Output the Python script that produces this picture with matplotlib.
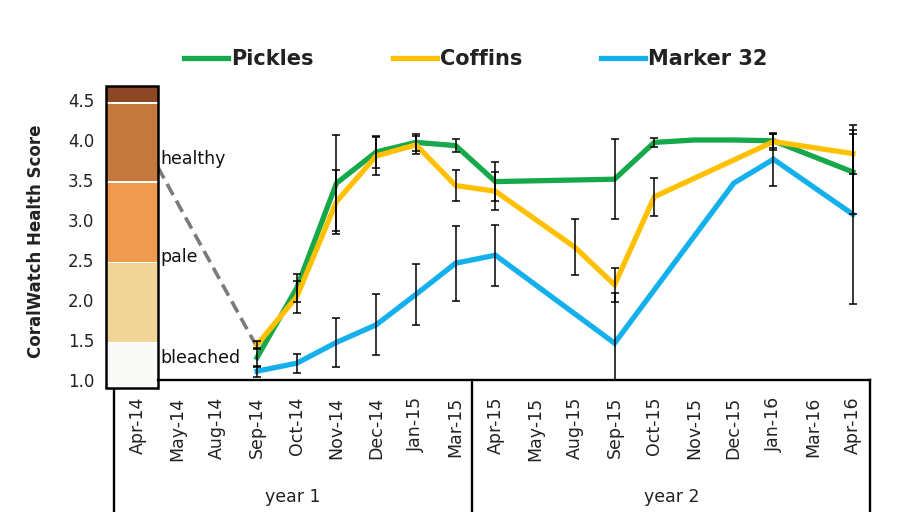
import numpy as np
import matplotlib
matplotlib.use("Agg")
import matplotlib.pyplot as plt
from matplotlib.patches import Rectangle
from matplotlib.transforms import blended_transform_factory

nan = np.nan
months = ['Apr-14', 'May-14', 'Aug-14', 'Sep-14', 'Oct-14', 'Nov-14', 'Dec-14', 'Jan-15', 'Mar-15',
          'Apr-15', 'May-15', 'Aug-15', 'Sep-15', 'Oct-15', 'Nov-15', 'Dec-15', 'Jan-16', 'Mar-16', 'Apr-16']

pickles = [nan, nan, nan, 1.28, 2.15, 3.46, 3.85, 3.97, 3.93, 3.48, nan, nan, 3.51, 3.97, 4.0, 4.0, 3.99, nan, 3.60]
pickles_err = [nan, nan, nan, 0.12, 0.18, 0.60, 0.20, 0.11, 0.08, 0.24, nan, nan, 0.50, 0.06, nan, nan, 0.09, nan, 0.53]

coffins = [nan, nan, nan, 1.44, 2.04, 3.23, 3.80, 3.94, 3.43, 3.36, nan, 2.66, 2.19, 3.29, nan, nan, 3.98, nan, 3.83]
coffins_err = [nan, nan, nan, 0.05, 0.20, 0.40, 0.24, 0.11, 0.19, 0.24, nan, 0.35, 0.21, 0.24, nan, nan, 0.10, nan, 0.25]

marker32 = [nan, nan, nan, 1.11, 1.21, 1.47, 1.69, 2.07, 2.46, 2.56, nan, nan, 1.46, nan, nan, 3.46, 3.76, nan, 3.07]
marker32_err = [nan, nan, nan, 0.07, 0.12, 0.31, 0.38, 0.38, 0.47, 0.38, nan, nan, 0.63, nan, nan, nan, 0.33, nan, 1.12]

series_names = ['Pickles', 'Coffins', 'Marker 32']
series_colors = ['#16a84a', '#ffc000', '#14b0ec']

# colour chart bands (health score ranges)
band_edges = [(0.9, 1.46), (1.48, 2.46), (2.48, 3.46), (3.485, 4.45), (4.47, 4.675)]
band_colors = ['#f9f9f8', '#f1d598', '#ee9a4f', '#c6773c', '#8c4824']
band_labels = [('healthy', 3.76), ('pale', 2.54), ('bleached', 1.275)]
years = [('year 1', 3.9), ('year 2', 13.43)]

W, H = 901, 512
fig = plt.figure(figsize=(W / 100, H / 100), dpi=100)
plt.rcParams['font.family'] = ['DejaVu Sans']

L, R, B, T = 114, 870, 380, 84
ax = fig.add_axes([L / W, (H - B) / H, (R - L) / W, (B - T) / H])
x = np.arange(len(months))
ax.set_xlim(-0.6, 18.43)
ax.set_ylim(1.0, 4.7)
for s in ax.spines.values():
    s.set_visible(False)

data = [(pickles, pickles_err), (coffins, coffins_err), (marker32, marker32_err)]
handles = []
for (vals, errs), name, col in zip(data, series_names, series_colors):
    v = np.array(vals, float)
    m = ~np.isnan(v)
    h, = ax.plot(x[m], v[m], color=col, lw=3.8, solid_joinstyle='miter', zorder=3, label=name)
    handles.append(h)
for (vals, errs), name, col in zip(data, series_names, series_colors):
    v = np.array(vals, float)
    e = np.array(errs, float)
    me = ~np.isnan(e)
    ax.errorbar(x[me], v[me], yerr=e[me], fmt='none', ecolor='black', elinewidth=1.1,
                capsize=3.0, capthick=1.1, zorder=4)

# y ticks
ax.set_yticks([1.0, 1.5, 2.0, 2.5, 3.0, 3.5, 4.0, 4.5])
ax.set_yticklabels(['1.0', '1.5', '2.0', '2.5', '3.0', '3.5', '4.0', '4.5'], fontsize=12, color='#222222')
ax.tick_params(axis='y', length=0, pad=14)
ax.set_xticks(x)
ax.set_xticklabels(months, rotation=90, fontsize=12.5, color='#222222')
ax.tick_params(axis='x', length=0, pad=12)
ax.set_ylabel('CoralWatch Health Score', fontsize=12, fontweight='bold', color='#222222')
ax.yaxis.set_label_coords((45 - L) / (R - L), (B - 241) / (B - T))

# colour chart
tb = blended_transform_factory(ax.transAxes, ax.transData)
cx0, cx1 = (106 - L) / (R - L), (158 - L) / (R - L)
for (y0, y1), c in zip(band_edges, band_colors):
    ax.add_patch(Rectangle((cx0, y0), cx1 - cx0, y1 - y0, transform=tb, facecolor=c,
                           edgecolor='none', clip_on=False, zorder=5))
ax.add_patch(Rectangle((cx0, 0.9), cx1 - cx0, 4.675 - 0.9, transform=tb, facecolor='none',
                       edgecolor='black', lw=1.8, clip_on=False, zorder=6))
for lab, yv in band_labels:
    ax.text(cx1 + 0.003, yv, lab, transform=tb, fontsize=12.5, color='#111111',
            ha='left', va='center', zorder=6)

# dashed connector
ax.plot([0.504, 3.0], [3.66, 1.41], color='#7a7a7a', lw=2.6, ls=(0, (3.5, 1.8)), zorder=2, clip_on=False)

# axis line and table-like category boxes
ax.plot([cx1, 1], [0, 0], transform=ax.transAxes, color='black', lw=1.7, clip_on=False, zorder=6)
ybot = -(H - B + 5) / (B - T)
ax.plot([0, 0], [-8 / (B - T), ybot], transform=ax.transAxes, color='black', lw=1.7, clip_on=False)
ax.plot([1, 1], [0, ybot], transform=ax.transAxes, color='black', lw=1.7, clip_on=False)
tx = blended_transform_factory(ax.transData, ax.transAxes)
ax.plot([8.42, 8.42], [0, ybot], transform=tx, color='black', lw=1.7, clip_on=False)
for lab, xv in years:
    ax.text(xv, -(497 - B) / (B - T), lab, transform=tx, fontsize=12.5, color='#222222',
            ha='center', va='center')

fig.legend(handles=handles, labels=series_names, loc='center', bbox_to_anchor=(476 / W, 1 - 59 / H),
           ncol=3, frameon=False, handlelength=2.1, handletextpad=0.15, columnspacing=3.8,
           prop={'size': 15, 'weight': 'bold'}, labelcolor='#222222')

fig.savefig('out.png', dpi=100)
